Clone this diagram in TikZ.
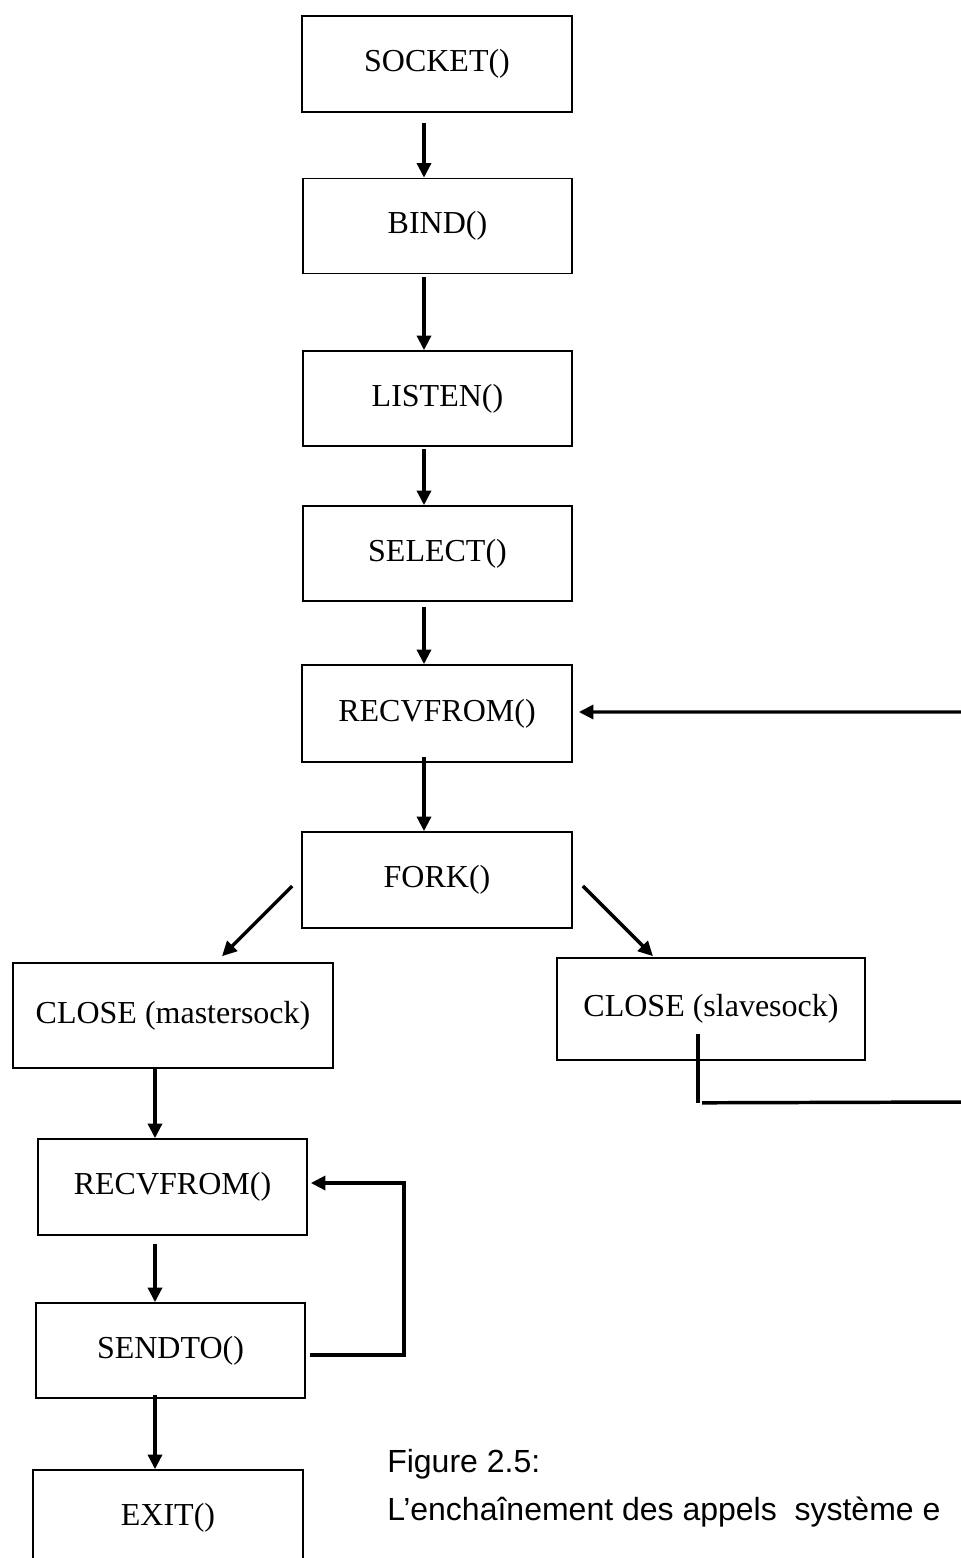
\documentclass[tikz,border=0pt]{standalone}
\usepackage{fontspec}
\setmainfont{Liberation Serif}
\newfontfamily\capfont{Liberation Sans}
\usetikzlibrary{arrows.meta,calc}

\tikzset{
  callbox/.style={draw=black, line width=1.2pt, rectangle, inner sep=0pt,
    font=\fontsize{24}{28}\selectfont},
  flow/.style={line width=2.6pt, -{Triangle[width=10.5pt,length=11pt]}},
  flowline/.style={line width=2.6pt},
  captext/.style={anchor=base west, inner sep=0pt,
    font=\capfont\fontsize{24}{28}\selectfont}
}

\begin{document}
\begin{tikzpicture}[x=0.75pt,y=-0.75pt]
\useasboundingbox (0,0) rectangle (960,1558);

% main server sequence
\node[callbox, minimum width=270*0.75pt, minimum height=96*0.75pt] (socket) at (437,64) {SOCKET()};
\node[callbox, minimum width=269*0.75pt, minimum height=95*0.75pt] (bind) at (437.5,226) {BIND()};
\node[callbox, minimum width=269*0.75pt, minimum height=95*0.75pt] (listen) at (437.5,398.5) {LISTEN()};
\node[callbox, minimum width=269*0.75pt, minimum height=95*0.75pt] (select) at (437.5,553.5) {SELECT()};
\node[callbox, minimum width=270*0.75pt, minimum height=97*0.75pt] (recv) at (437,713.5) {RECVFROM()};
\node[callbox, minimum width=270*0.75pt, minimum height=96*0.75pt] (fork) at (437,880) {FORK()};

% child / parent branches
\node[callbox, minimum width=320*0.75pt, minimum height=105*0.75pt] (closem) at (173,1015.5) {CLOSE (mastersock)};
\node[callbox, minimum width=308*0.75pt, minimum height=102*0.75pt] (closes) at (711,1009) {CLOSE (slavesock)};

% child loop
\node[callbox, minimum width=269*0.75pt, minimum height=96*0.75pt] (recvb) at (172.5,1187) {RECVFROM()};
\node[callbox, minimum width=269*0.75pt, minimum height=95*0.75pt] (sendto) at (170.5,1350.5) {SENDTO()};
\node[callbox, minimum width=270*0.75pt, minimum height=96*0.75pt] (exit) at (168,1518) {EXIT()};

% vertical arrows of the main sequence
\draw[flow] ($(socket.south)+(-13,10)$) -- ($(bind.north)+(-13.5,0)$);
\draw[flow] ($(bind.south)+(-13.5,3)$) -- ($(listen.north)+(-13.5,0)$);
\draw[flow] ($(listen.south)+(-13.5,2)$) -- ($(select.north)+(-13.5,0)$);
\draw[flow] ($(select.south)+(-13.5,5)$) -- ($(recv.north)+(-13,0)$);
\draw[flow] ($(recv.south)+(-13,-6)$) -- ($(fork.north)+(-13,0)$);

% fork branches
\draw[flow] ($(fork.west)+(-9,6)$) -- ($(closem.north)+(49,-6)$);
\draw[flow] ($(fork.east)+(10,6)$) -- ($(closes.north)+(-58,-1)$);

% parent returns to RECVFROM
\coordinate (backR) at (963,1102);
\coordinate (backT) at (963,712);
\draw[flowline] ($(closes.south)+(-13,-27)$) -- ($(closes.south)+(-13,42)$);
\draw[flow] ($(closes.south)+(-9,42)$) -- (backR) -- (backT) -- ($(recv.east)+(6,-1.5)$);

% child sequence
\draw[flow] ($(closem.south)+(-18,0)$) -- ($(recvb.north)+(-17.5,0)$);
\draw[flow] ($(recvb.south)+(-17.5,8)$) -- ($(sendto.north)+(-15.5,0)$);
\draw[flow] ($(sendto.south)+(-15.5,-4)$) -- ($(exit.north)+(-13,0)$);

% SENDTO loops back to RECVFROM
\coordinate (loopB) at (404,1355);
\coordinate (loopT) at (404,1183);
\draw[flow] ($(sendto.east)+(4,4.5)$) -- (loopB) -- (loopT) -- ($(recvb.east)+(3,-4)$);

% caption
\node[captext] (cap1) at (387,1472) {Figure 2.5:};
\node[captext] (cap2) at (387,1520) {L’enchaînement des appels\ \ système e};
\end{tikzpicture}
\end{document}
